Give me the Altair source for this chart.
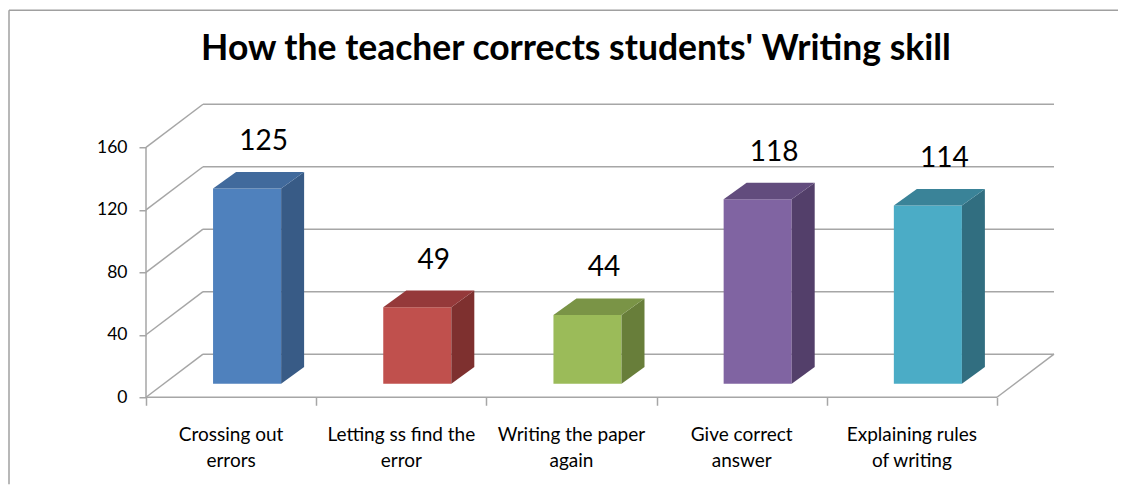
import altair as alt
import pandas as pd

# ---- data ----
categories = [
    "Crossing out\nerrors",
    "Letting ss find the\nerror",
    "Writing the  paper\nagain",
    "Give correct\nanswer",
    "Explaining rules\nof writing",
]
values = [125, 49, 44, 118, 114]
y_ticks = [0, 40, 80, 120, 160]
title_text = "How the teacher corrects students' Writing skill"

# ---- styles ----
front_colors = ["#4F81BD", "#C0504D", "#9BBB59", "#8064A2", "#4BACC6"]
side_colors = ["#385B86", "#7E302F", "#687E3A", "#533F6A", "#316E80"]
top_colors = ["#416A9C", "#95393A", "#7A9446", "#624C7D", "#3A8398"]
GRID = "#A6A6A6"
FONT = "Lato"

# ---- 3D geometry (x in category units, y in value units) ----
D, DY = 0.335, 27.6        # depth of the box (back wall offset)
BASE, OFF = 8.7, 0.094     # bar front face offset into the box
BW = 0.40                  # bar width
DX, DDY = 0.135, 10.6      # bar depth
n = len(values)
XMAX, YMAX = n + D, y_ticks[-1] + DY

xs = alt.Scale(domain=[0, XMAX], nice=False, zero=False)
ys = alt.Scale(domain=[0, YMAX], nice=False, zero=False)
xa = alt.Axis(values=list(range(n + 1)), labels=False, domain=False, grid=False, tickSize=8,
              tickColor=GRID, tickWidth=1.5, title=None)
ya = alt.Axis(values=y_ticks, domain=False, grid=False, tickSize=7, tickColor=GRID, tickWidth=1.5,
              labelFont=FONT, labelFontSize=17.5, labelColor="#000000", labelPadding=12, title=None)

# frame lines of the 3D box
lines = []
for t in y_ticks:
    lines.append(dict(x=D, x2=n + D, y=t + DY, y2=t + DY))     # back wall grid
    lines.append(dict(x=0, x2=D, y=t, y2=t + DY))               # side wall grid
lines.append(dict(x=0, x2=0, y=0, y2=y_ticks[-1]))              # front vertical axis
lines.append(dict(x=0, x2=n, y=0, y2=0))                        # floor front edge
lines.append(dict(x=n, x2=n + D, y=0, y2=DY))                   # floor right edge
lines_df = pd.DataFrame(lines)

front, side, top, lab = [], [], [], []
for i, v in enumerate(values):
    x0 = i + 0.5 - BW / 2 + OFF
    x1 = x0 + BW
    front.append(dict(k=i, x0=x0, x1=x1, y0=BASE, y1=BASE + v, c=front_colors[i]))
    side.append(dict(k=i, x=x1, lo=BASE, hi=BASE + v, c=side_colors[i]))
    side.append(dict(k=i, x=x1 + DX, lo=BASE + DDY, hi=BASE + v + DDY, c=side_colors[i]))
    top.append(dict(k=i, y=BASE + v, xa=x0, xb=x1, c=top_colors[i]))
    top.append(dict(k=i, y=BASE + v + DDY, xa=x0 + DX, xb=x1 + DX, c=top_colors[i]))
    lab.append(dict(x=x0 + BW / 2 + DX / 2, y=BASE + v + DDY, t=str(v)))
front_df, side_df, top_df, lab_df = map(pd.DataFrame, (front, side, top, lab))
cat_df = pd.DataFrame(dict(x=[i + 0.5 for i in range(n)], y=[0] * n, t=categories))

grid = alt.Chart(lines_df).mark_rule(color=GRID, strokeWidth=1.5).encode(
    x=alt.X("x:Q", scale=xs, axis=xa), x2="x2:Q",
    y=alt.Y("y:Q", scale=ys, axis=ya), y2="y2:Q",
)
fronts = alt.Chart(front_df).mark_rect().encode(
    x=alt.X("x0:Q", scale=xs, axis=xa), x2="x1:Q",
    y=alt.Y("y0:Q", scale=ys, axis=ya), y2="y1:Q",
    color=alt.Color("c:N", scale=None),
)
sides = alt.Chart(side_df).mark_area().encode(
    x=alt.X("x:Q", scale=xs, axis=xa),
    y=alt.Y("hi:Q", scale=ys, axis=ya, stack=None), y2="lo:Q",
    detail="k:N",
    color=alt.Color("c:N", scale=None),
)
tops = alt.Chart(top_df).mark_area(orient="horizontal").encode(
    y=alt.Y("y:Q", scale=ys, axis=ya),
    x=alt.X("xa:Q", scale=xs, axis=xa, stack=None), x2="xb:Q",
    detail="k:N",
    color=alt.Color("c:N", scale=None),
)
labels = alt.Chart(lab_df).mark_text(font=FONT, fontSize=28, color="#000000", baseline="middle",
                                     dx=5, dy=-30).encode(
    x=alt.X("x:Q", scale=xs, axis=xa), y=alt.Y("y:Q", scale=ys, axis=ya), text="t:N")
cats = alt.Chart(cat_df).mark_text(font=FONT, fontSize=19, color="#000000", baseline="alphabetic",
                                   dy=44, lineBreak="\n", lineHeight=26).encode(
    x=alt.X("x:Q", scale=xs, axis=xa), y=alt.Y("y:Q", scale=ys, axis=ya), text="t:N")

one = pd.DataFrame({"a": [0]})
title = alt.Chart(one).mark_text(font=FONT, fontSize=35.5, fontWeight="bold", color="#000000",
                                 baseline="alphabetic", align="center", text=title_text).encode(
    x=alt.value(430), y=alt.value(-44))
border_v = alt.Chart(one).mark_rule(color="#A0A0A0", strokeWidth=1.5).encode(
    x=alt.value(-137), y=alt.value(-94), y2=alt.value(380))
border_h = alt.Chart(one).mark_rule(color="#A0A0A0", strokeWidth=1.5).encode(
    x=alt.value(-137), x2=alt.value(972), y=alt.value(-94))

chart = alt.layer(grid, fronts, sides, tops, labels, cats, title, border_v, border_h).properties(
    width=908, height=293,
    padding={"left": 0, "top": 1.25, "right": 0, "bottom": 0},
    background="#FFFFFF",
).configure_view(stroke=None)

chart.save("out.html", embed_options={"renderer": "svg", "actions": False})
